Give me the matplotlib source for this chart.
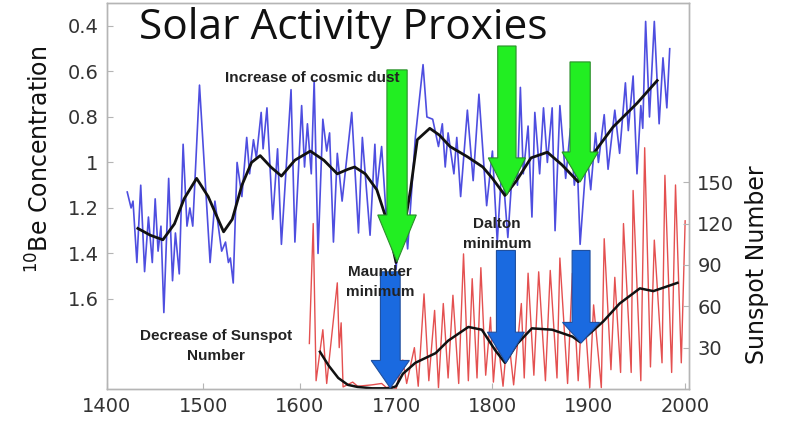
import matplotlib
matplotlib.use("Agg")
import matplotlib.pyplot as plt
from matplotlib.patches import FancyArrow

# ---------------- data ----------------
be_years = [1421, 1425, 1427, 1431, 1435, 1439, 1443, 1447, 1450, 1453, 1456, 1459,
            1464, 1468, 1471, 1475, 1479, 1483, 1486, 1489, 1496, 1507, 1512, 1519,
            1523, 1526, 1528, 1531, 1535, 1540, 1545, 1548, 1552, 1555, 1560, 1562,
            1566, 1572, 1577, 1581, 1591, 1595, 1602, 1605, 1608, 1612, 1615, 1619,
            1624, 1628, 1631, 1635, 1639, 1644, 1654, 1661, 1665, 1673, 1678, 1680,
            1685, 1690, 1695, 1700, 1706, 1712, 1720, 1728, 1732, 1738, 1744, 1748,
            1751, 1754, 1760, 1763, 1767, 1774, 1780, 1786, 1794, 1800, 1805, 1810,
            1816, 1822, 1826, 1829, 1832, 1837, 1841, 1844, 1849, 1853, 1857, 1862,
            1865, 1870, 1876, 1881, 1885, 1888, 1891, 1898, 1902, 1907, 1910, 1916,
            1920, 1927, 1932, 1938, 1941, 1946, 1950, 1954, 1956, 1959, 1963, 1968,
            1973, 1977, 1981, 1984]
be_values = [1.13, 1.20, 1.17, 1.44, 1.10, 1.48, 1.24, 1.44, 1.16, 1.39, 1.28, 1.66,
             1.07, 1.52, 1.31, 1.49, 0.92, 1.28, 1.20, 1.28, 0.66, 1.44, 1.17, 1.39,
             1.35, 1.44, 1.42, 1.53, 1.00, 1.15, 0.89, 1.05, 0.90, 0.98, 0.78, 0.94,
             0.76, 1.25, 0.94, 1.36, 0.68, 1.35, 0.75, 1.02, 0.83, 1.05, 0.64, 1.40,
             0.81, 0.95, 0.87, 1.35, 0.96, 1.17, 0.78, 1.31, 0.89, 1.32, 0.92, 1.12,
             0.93, 1.25, 1.02, 1.47, 1.10, 1.38, 0.89, 0.57, 0.80, 0.81, 0.93, 0.83,
             1.02, 0.87, 1.05, 0.89, 1.15, 0.77, 1.08, 0.70, 1.19, 0.95, 1.35, 1.00,
             1.33, 0.95, 1.10, 0.67, 1.05, 0.84, 1.24, 0.78, 1.05, 0.76, 1.00, 0.76,
             1.30, 0.75, 1.07, 0.85, 1.10, 1.00, 1.36, 0.95, 1.12, 0.87, 1.00, 0.79,
             1.03, 0.77, 0.96, 0.65, 0.86, 0.62, 1.05, 0.75, 0.85, 0.38, 0.80, 0.38,
             0.83, 0.54, 0.76, 0.50]

be_smooth_years = [1432, 1445, 1458, 1470, 1480, 1493, 1505, 1521, 1530, 1540, 1550,
                   1559, 1570, 1581, 1595, 1611, 1625, 1639, 1650, 1657, 1668, 1680,
                   1690, 1700, 1708, 1715, 1722, 1735, 1745, 1756, 1774, 1790, 1800,
                   1813, 1825, 1840, 1857, 1872, 1889, 1905, 1925, 1950, 1971]
be_smooth_values = [1.29, 1.32, 1.34, 1.27, 1.16, 1.07, 1.15, 1.305, 1.25, 1.10, 1.00,
                    0.97, 1.02, 1.06, 0.99, 0.95, 0.99, 1.05, 1.03, 1.02, 1.05, 1.12,
                    1.25, 1.44, 1.30, 1.12, 0.90, 0.85, 0.88, 0.93, 0.975, 1.02, 1.07,
                    1.145, 1.08, 0.98, 0.955, 1.01, 1.085, 0.96, 0.845, 0.74, 0.64]

ssn_years = [1610, 1614, 1617, 1624, 1628, 1639, 1641, 1643, 1645, 1655, 1660, 1675,
             1685, 1690, 1695, 1700, 1707, 1711, 1719, 1723, 1729, 1734, 1740, 1744,
             1749, 1754, 1759, 1765, 1770, 1775, 1779, 1784, 1788, 1793, 1798, 1801,
             1805, 1811, 1816, 1822, 1830, 1833, 1837, 1843, 1848, 1855, 1860, 1867,
             1870, 1878, 1883, 1889, 1894, 1901, 1905, 1913, 1916, 1923, 1927, 1933,
             1936, 1944, 1946, 1954, 1958, 1964, 1968, 1976, 1979, 1986, 1990, 1996,
             2000]
ssn_values = [33, 120, 6, 43, 4, 77, 30, 48, 1.5, 5, 2, 3,
              4, 1, 2, 0, 21, 4, 30, 2, 69, 6, 57, 1,
              62, 8, 68, 4, 98, 6, 80, 8, 88, 10, 52, 5,
              40, 2, 42, 3, 62, 8, 84, 10, 85, 6, 86, 8,
              95, 4, 84, 6, 72, 1, 61, 1, 109, 14, 81, 12,
              120, 12, 144, 6, 175, 16, 108, 19, 155, 12, 148, 19,
              122]

ssn_smooth_years = [1621, 1630, 1640, 1650, 1660, 1675, 1694, 1700, 1707, 1720, 1741,
                    1754, 1775, 1789, 1803, 1813, 1826, 1841, 1862, 1883, 1891, 1915,
                    1932, 1953, 1967, 1992]
ssn_smooth_values = [27, 17, 8, 3, 1.5, 0.5, 0.5, 2, 11, 19, 26,
                     35, 45, 43, 28, 19, 33, 44, 43, 38, 34, 49,
                     62, 73, 71, 77]

x_ticks = [1400, 1500, 1600, 1700, 1800, 1900, 2000]
be_ticks = [0.4, 0.6, 0.8, 1.0, 1.2, 1.4, 1.6]
be_tick_labels = ["0.4", "0.6", "0.8", "1", "1.2", "1.4", "1.6"]
ssn_ticks = [30, 60, 90, 120, 150]

title = "Solar Activity Proxies"
be_label = r"$^{10}$Be Concentration"
ssn_label = "Sunspot Number"

# ---------------- figure ----------------
W, H = 800, 433
fig = plt.figure(figsize=(W / 100, H / 100), dpi=100)
fig.patch.set_facecolor("white")

def fx(px):
    return px / W

def fy(py):
    return 1 - py / H

ax = fig.add_axes([fx(107), fy(389), fx(689) - fx(107), fy(3) - fy(389)])
ax2 = ax.twinx()

ax.set_xlim(1400, 2004)
ax.set_ylim(1.996, 0.299)
ax2.set_ylim(0, 280)

tick_color = "#333333"
spine_color = "#b5b5b5"
for a in (ax, ax2):
    for s in a.spines.values():
        s.set_color(spine_color)
        s.set_linewidth(1.0)

ax.set_xticks(x_ticks)
ax.set_xticklabels([str(t) for t in x_ticks])
ax.set_yticks(be_ticks)
ax.set_yticklabels(be_tick_labels)
ax2.set_yticks(ssn_ticks)
ax2.set_yticklabels([str(t) for t in ssn_ticks])

for a in (ax, ax2):
    a.tick_params(direction="in", length=4, width=0.8, color=spine_color,
                  labelcolor=tick_color, labelsize=14, pad=6)
    for lab in a.get_xticklabels() + a.get_yticklabels():
        lab.set_family("DejaVu Sans")

# Be series
ax.plot(be_years, be_values, color="#4e4ee0", lw=1.2, zorder=1,
        solid_joinstyle="round")
ax.plot(be_smooth_years, be_smooth_values, color="#111111", lw=2.0, zorder=2,
        solid_joinstyle="round")

# Sunspot series
ax2.plot(ssn_years, ssn_values, color="#e45050", lw=1.0, zorder=1,
         solid_joinstyle="round")
ax2.plot(ssn_smooth_years, ssn_smooth_values, color="#111111", lw=1.8, zorder=2,
         solid_joinstyle="round")

# arrows: (x, top, tip, shaft width, head width, head length)
green_arrows = [(1701, 0.593, 1.437, 21, 40, 0.206),
                (1815, 0.488, 1.143, 19, 38.5, 0.163),
                (1891, 0.558, 1.086, 21, 37.5, 0.132)]
blue_arrows = [(1694, 85, 0.7, 20.5, 39.6, 20),
               (1814, 100.5, 18.8, 19.7, 38.4, 22.4),
               (1892, 100.5, 33.3, 18.6, 38.5, 15)]

for (x, top, tip, sw, hw, hl) in green_arrows:
    arr = FancyArrow(x, top, 0, tip - top, width=sw, head_width=hw, head_length=hl,
                     length_includes_head=True, facecolor="#22ee22",
                     edgecolor="#2b8f2b", lw=0.8, transform=ax.transData, zorder=5)
    ax2.add_patch(arr)

for (x, top, tip, sw, hw, hl) in blue_arrows:
    arr = FancyArrow(x, top, 0, tip - top, width=sw, head_width=hw, head_length=hl,
                     length_includes_head=True, facecolor="#1a6ae0",
                     edgecolor="#1f4f9e", lw=0.8, transform=ax2.transData, zorder=5)
    ax2.add_patch(arr)

# texts
fig.text(fx(343), fy(28), title, ha="center", va="center", fontsize=30.5,
         family=["Open Sans", "DejaVu Sans"], color="#111111")

ann_font = dict(family=["Liberation Sans Narrow", "Liberation Sans", "DejaVu Sans"],
                fontweight="bold", fontsize=11, color="#222222",
                ha="center", va="center", linespacing=1.5)
fig.text(fx(312), fy(78), "Increase of cosmic dust", **ann_font)
fig.text(fx(380), fy(282), "Maunder\nminimum", **ann_font)
fig.text(fx(497), fy(234), "Dalton\nminimum", **ann_font)
fig.text(fx(216), fy(346), "Decrease of Sunspot\nNumber", **ann_font)

fig.text(fx(40), fy(159), be_label, rotation=90, ha="center", va="center",
         fontsize=17, family="DejaVu Sans", color="#111111")
fig.text(fx(757), fy(265), ssn_label, rotation=90, ha="center", va="center",
         fontsize=17, family="DejaVu Sans", color="#111111")

fig.savefig("out.png", dpi=100, facecolor="white")
